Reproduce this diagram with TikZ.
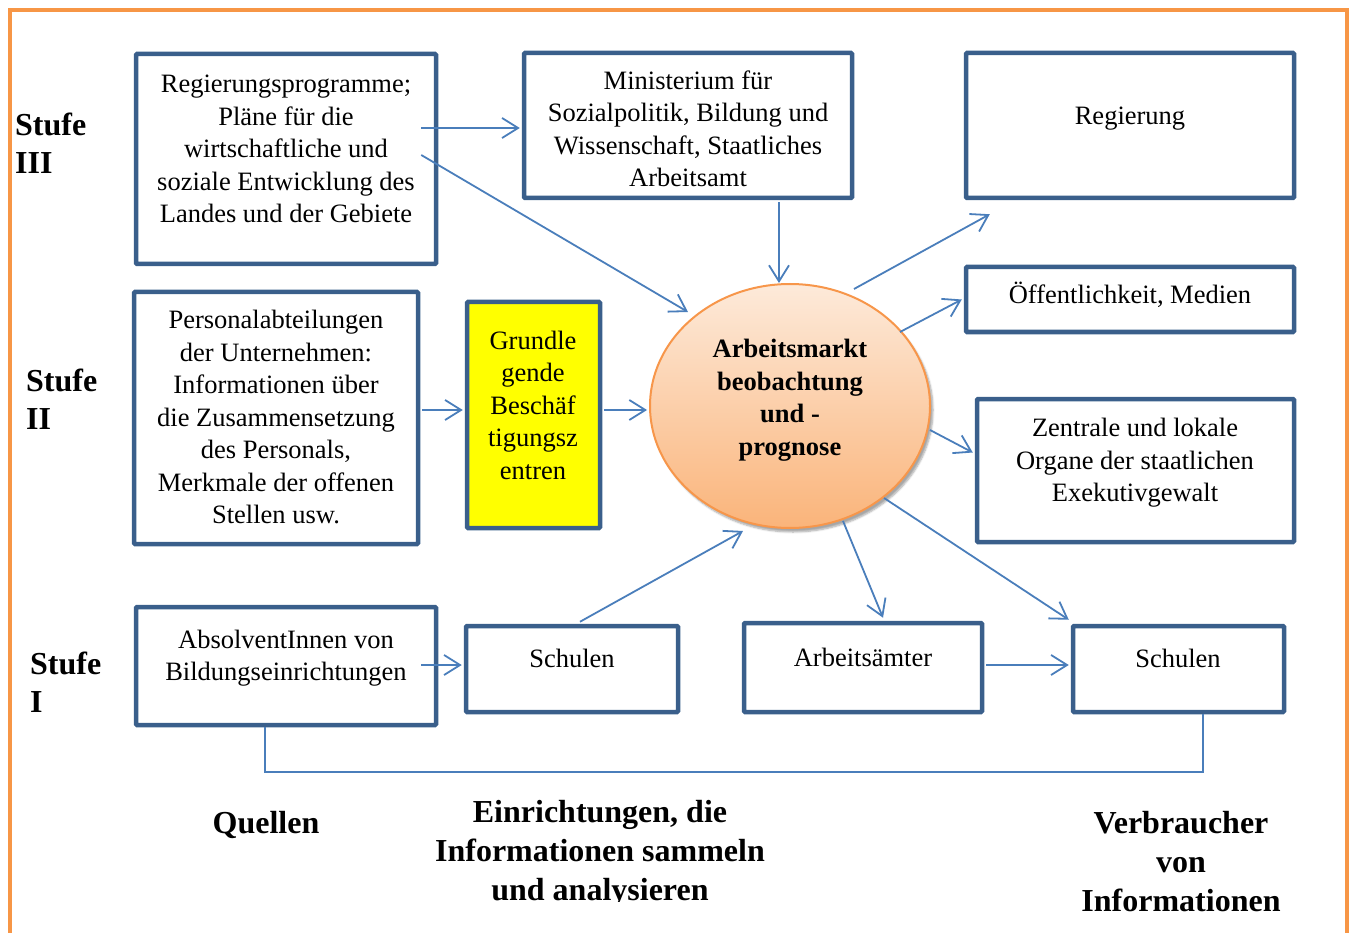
\documentclass[tikz,border=0pt]{standalone}
\usepackage{fontspec}
\setmainfont{Liberation Serif}
\usetikzlibrary{calc,arrows.meta,shadows.blur,shapes.geometric}
\definecolor{boxblue}{HTML}{3A5F8B}
\definecolor{arrblue}{HTML}{4A7EBB}
\definecolor{frameorange}{HTML}{F79646}
\definecolor{ctop}{HTML}{FDEADA}
\definecolor{cbot}{HTML}{FAB47A}
\definecolor{cborder}{HTML}{F7964A}
\definecolor{yel}{HTML}{FFFF00}
\begin{document}
\begin{tikzpicture}[x=1pt,y=-1pt,
 box/.style={draw=boxblue,line width=4.5pt,rounded corners=1pt,inner sep=0pt},
 txt/.style={font=\fontsize{26.5}{32.5}\selectfont,align=center,inner sep=0pt},
 btxt/.style={font=\fontsize{26.5}{32.5}\selectfont\bfseries,align=center,inner sep=0pt},
 lbl/.style={font=\fontsize{32}{38}\selectfont\bfseries,align=left,anchor=west,inner sep=0pt},
 foot/.style={font=\fontsize{32}{39}\selectfont\bfseries,align=center,inner sep=0pt},
 arr/.style={draw=arrblue,line width=1.8pt,-{Straight Barb[length=16pt,width=20pt,line width=1.8pt]}},
 ln/.style={draw=arrblue,line width=1.8pt}]
\useasboundingbox (0,0) rectangle (1352,933);
% frame
\draw[frameorange,line width=4pt] (10,940) -- (10,10) -- (1347,10) -- (1347,940);

% boxes
\node[box,minimum width=300pt,minimum height=210pt] (b1) at (286,159) {};
\node[txt] (t1) at (286,149) {Regierungsprogramme;\\Pläne für die\\wirtschaftliche und\\soziale Entwicklung des\\Landes und der Gebiete};
\node[box,minimum width=328pt,minimum height=145pt] (b2) at (688,125.5) {};
\node[txt] (t2) at (688,129) {Ministerium für\\Sozialpolitik, Bildung und\\Wissenschaft, Staatliches\\Arbeitsamt};
\node[box,minimum width=328pt,minimum height=145pt] (b3) at (1130,125.5) {};
\node[txt] (t3) at (1130,119) {Regierung};
\node[box,minimum width=284pt,minimum height=252pt] (b4) at (276,418) {};
\node[txt] (t4) at (276,417) {Personalabteilungen\\der Unternehmen:\\Informationen über\\die Zusammensetzung\\des Personals,\\Merkmale der offenen\\Stellen usw.};
\node[box,fill=yel,minimum width=133pt,minimum height=226pt] (b5) at (533.5,415) {};
\node[txt] (t5) at (533,405) {Grundle\\gende\\Beschäf\\tigungsz\\entren};
\node[box,minimum width=328pt,minimum height=65pt] (b7) at (1130,299.5) {};
\node[txt] (t7) at (1130,295) {Öffentlichkeit, Medien};
\node[box,minimum width=317pt,minimum height=143pt] (b8) at (1135.5,470.5) {};
\node[txt] (t8) at (1135,463) {Zentrale und lokale\\Organe der staatlichen\\Exekutivgewalt};
\node[box,minimum width=300pt,minimum height=118pt] (b9) at (286,666) {};
\node[txt] (t9) at (286,658) {AbsolventInnen von\\Bildungseinrichtungen};
\node[box,minimum width=212pt,minimum height=86pt] (b10) at (572,669) {};
\node[txt] (t10) at (572,658) {Schulen};
\node[box,minimum width=238pt,minimum height=89pt] (b11) at (863,667.5) {};
\node[txt] (t11) at (863,657) {Arbeitsämter};
\node[box,minimum width=211pt,minimum height=86pt] (b12) at (1178.5,669) {};
\node[txt] (t12) at (1178,658) {Schulen};

% circle
\node[ellipse,draw=cborder,line width=2pt,top color=ctop,bottom color=cbot,
  minimum width=280pt,minimum height=244pt,inner sep=0pt,
  blur shadow={shadow xshift=3pt,shadow yshift=-4pt,shadow blur steps=6,shadow opacity=35}] (c) at (790,406) {};
\node[btxt] (ct) at (790,400) {Arbeitsmarkt\\beobachtung\\und -\\prognose};

% arrows
\draw[arr] ($(b1.east)+(-17,-31)$) -- ($(b2.west)+(-2,2.5)$);
\draw[arr] ($(b1.east)+(-17,-4)$) -- ($(c.center)+(-102,-94)$);
\draw[arr] ($(b2.south)+(91,2)$) -- ($(c.center)+(-11,-123)$);
\draw[arr] ($(c.center)+(64,-117)$) -- ($(b3.south west)+(26,14)$);
\draw[arr] ($(c.center)+(110,-74)$) -- ($(b7.west)+(-2,0)$);
\draw[arr] ($(c.center)+(140,24)$) -- ($(b8.west)+(-2,-18)$);
\draw[arr] ($(b4.east)+(2,-8)$) -- ($(b5.west)+(-2,-5)$);
\draw[arr] ($(b5.east)+(2,-5)$) -- ($(c.west)+(-2,4)$);
\draw[arr] ($(b10.north)+(8,-2)$) -- ($(c.center)+(-47,125)$);
\draw[arr] ($(c.center)+(53,115)$) -- ($(b11.north)+(20,-3)$);
\draw[arr] ($(c.center)+(94,92)$) -- ($(b12.north west)+(-2,-4)$);
\draw[arr] ($(b9.east)+(-17,-1)$) -- ($(b10.west)+(-2,-4)$);
\draw[arr] ($(b11.east)+(2,-2.5)$) -- ($(b12.west)+(-2,-4)$);
\draw[ln] ($(b9.south)+(-21,0)$) -- ++(0,45) -| ($(b12.south)+(24.5,0)$);

% labels
\node[lbl] (s3) at (15,143) {Stufe\\III};
\node[lbl] (s2) at (26,399) {Stufe\\II};
\node[lbl] (s1) at (30,682) {Stufe\\I};
\node[foot] (q) at (266,825) {Quellen};
\begin{scope}
\clip (420,780) rectangle (790,901);
\node[foot] (e) at (600,854) {Einrichtungen, die\\Informationen sammeln\\und analysieren};
\end{scope}
\node[foot] (v) at (1181,862) {Verbraucher\\von\\Informationen};
\end{tikzpicture}
\end{document}
